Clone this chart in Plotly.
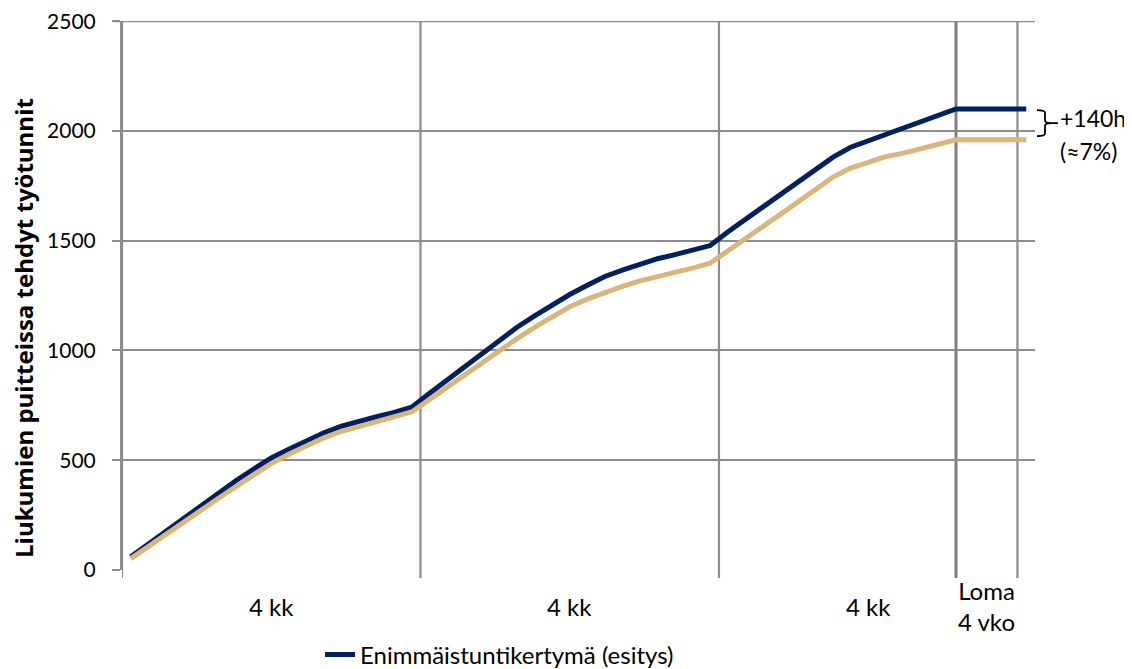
import plotly.graph_objects as go

# ---- data ----
weeks = list(range(1, 53))
navy_name = "Enimmäistuntikertymä (esitys)"
tan_name = "Nykyinen kertymä"
navy_vals = [60, 118, 177, 236, 295, 352, 408, 460, 510, 550, 590, 625, 655, 678, 698, 718, 742,
             804, 865, 927, 988, 1048, 1106, 1158, 1209, 1255, 1297, 1337, 1366, 1394, 1418, 1437, 1457, 1478,
             1540, 1597, 1658, 1716, 1774, 1828, 1881, 1926, 1955, 1986, 2014, 2044, 2072, 2100,
             2100, 2100, 2100, 2100]
tan_vals = [52, 108, 163, 218, 273, 327, 380, 432, 485, 527, 567, 602, 632, 655, 676, 697, 720,
            776, 833, 887, 940, 999, 1054, 1105, 1152, 1199, 1234, 1266, 1292, 1317, 1336, 1354, 1375, 1398,
            1456, 1510, 1565, 1620, 1678, 1735, 1790, 1831, 1858, 1883, 1899, 1920, 1940, 1960,
            1960, 1960, 1960, 1960]
group_bounds = [0.5, 17.5, 34.5, 51.5]
group_labels = ["4 kk", "4 kk", "4 kk"]
loma_start = 48
loma_label = "Loma<br>4 vko"
y_ticks = [0, 500, 1000, 1500, 2000, 2500]
y_max = 2500
y_title = "Liukumien puitteissa tehdyt työtunnit"
diff_label = "+140h"
diff_pct = "(≈7%)"

NAVY = "#002060"
TAN = "#DAB67C"
GRID = "#8C8C8C"
FONT = "Lato, 'Open Sans', sans-serif"
TXT = 24

# page body has an 8px margin: figure sized/positioned so the plot lands where the reference has it
OFF = 8
W, H = 1132 - OFF, 669 - OFF
L, R, T, B = 122 - OFF, 97, 21 - OFF, 99
pw = W - L - R
ph = H - T - B

def px_x(px):
    return (px - OFF - L) / pw

def px_y(py):
    return (H - B - (py - OFF)) / ph

fig = go.Figure()
fig.add_trace(go.Scatter(x=weeks, y=navy_vals, mode="lines", name=navy_name,
                         line=dict(color=NAVY, width=5)))
fig.add_trace(go.Scatter(x=weeks, y=tan_vals, mode="lines", name=tan_name, showlegend=False,
                         line=dict(color=TAN, width=5)))

shapes = []
for xb in group_bounds + [loma_start]:
    shapes.append(dict(type="line", xref="x", yref="paper", x0=xb, x1=xb,
                       y0=-8 / ph, y1=1, line=dict(color=GRID if xb != loma_start else "#7F7F7F",
                                                   width=2.2 if xb != loma_start else 3),
                       layer="below"))
# top gridline (explicit, so it is never dropped at the range edge)
shapes.append(dict(type="line", xref="paper", yref="y", x0=-8 / pw, x1=1, y0=y_max, y1=y_max,
                   line=dict(color=GRID, width=2), layer="below"))

# bracket between final values
xa, xm, xt, xe = px_x(1037), px_x(1045), px_x(1051), px_x(1058)
ytop, ybot = navy_vals[-1] - 5, tan_vals[-1] + 16
ymid = (ytop + ybot) / 2
path = (f"M {xa},{ytop} Q {xm},{ytop} {xm},{ytop-12} L {xm},{ymid+12} "
        f"Q {xm},{ymid} {xt},{ymid} Q {xm},{ymid} {xm},{ymid-12} L {xm},{ybot+12} "
        f"Q {xm},{ybot} {xa},{ybot} M {xt},{ymid} L {xe},{ymid}")
shapes.append(dict(type="path", xref="paper", yref="y", path=path,
                   line=dict(color="black", width=1.8)))

annotations = []
for i, lab in enumerate(group_labels):
    annotations.append(dict(x=(group_bounds[i] + group_bounds[i + 1]) / 2, y=px_y(606),
                            xref="x", yref="paper", text=lab, showarrow=False,
                            font=dict(size=TXT, color="black", family=FONT),
                            xanchor="center", yanchor="middle"))
annotations.append(dict(x=(loma_start + group_bounds[-1]) / 2, y=px_y(606), xref="x", yref="paper",
                        text=loma_label, showarrow=False,
                        font=dict(size=TXT, color="black", family=FONT),
                        xanchor="center", yanchor="middle"))
annotations.append(dict(x=px_x(23), y=px_y(328), xref="paper", yref="paper", text=f"<b>{y_title}</b>",
                        textangle=-90, showarrow=False,
                        font=dict(size=24, color="black", family="'Open Sans', sans-serif"),
                        xanchor="center", yanchor="middle"))
annotations.append(dict(x=px_x(1058), y=px_y(118), xref="paper", yref="paper", text=diff_label,
                        showarrow=False, font=dict(size=23, color="black", family=FONT),
                        xanchor="left", yanchor="middle"))
annotations.append(dict(x=px_x(1088), y=px_y(151), xref="paper", yref="paper", text=diff_pct,
                        showarrow=False, font=dict(size=23, color="black", family=FONT),
                        xanchor="center", yanchor="middle"))

fig.update_layout(
    width=W, height=H,
    margin=dict(l=L, r=R, t=T, b=B, autoexpand=False),
    paper_bgcolor="white", plot_bgcolor="white",
    font=dict(family=FONT, size=TXT, color="black"),
    showlegend=True,
    legend=dict(orientation="h", x=px_x(320), y=px_y(655), xanchor="left", yanchor="middle",
                font=dict(size=TXT, family=FONT, color="black"), bgcolor="rgba(0,0,0,0)"),
    shapes=shapes,
    annotations=annotations,
)
fig.update_xaxes(range=[0.5, 52.5], showgrid=False, zeroline=False, showticklabels=False,
                 showline=False, ticks="", automargin=False)
fig.update_yaxes(range=[0, y_max + 1], tickvals=y_ticks, showgrid=True, gridcolor=GRID, gridwidth=2,
                 zeroline=False, showline=True, linecolor=GRID, linewidth=2,
                 ticks="outside", ticklen=8, tickcolor=GRID, tickwidth=2, automargin=False,
                 ticklabeloverflow="allow",
                 ticklabelstandoff=12, tickfont=dict(size=21, family=FONT, color="black"))

fig.write_html("out.html")
